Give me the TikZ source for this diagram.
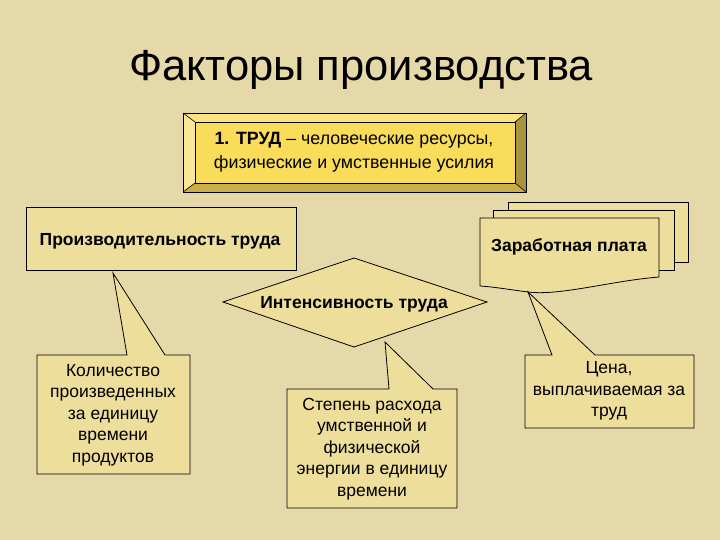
\documentclass[tikz,border=0pt]{standalone}
\usepackage{fontspec}
\setmainfont{Liberation Sans}
\usetikzlibrary{shapes.geometric}
\definecolor{bg}{RGB}{230,217,169}
\definecolor{boxfill}{RGB}{238,222,156}
\definecolor{topfill}{RGB}{248,220,90}
\definecolor{bevlight}{RGB}{251,232,150}
\definecolor{bevtop}{RGB}{250,228,130}
\definecolor{bevbot}{RGB}{200,175,75}
\definecolor{bevright}{RGB}{168,148,64}
\tikzset{
  shapeline/.style={draw=black, line width=0.8pt, fill=boxfill},
  calltext/.style={align=center, font=\fontsize{17.5}{21.5}\selectfont, inner sep=0pt},
  boldlabel/.style={font=\fontsize{17.5}{20}\selectfont\bfseries, inner sep=0pt}
}
\begin{document}
\begin{tikzpicture}[x=1pt,y=-1pt]
\fill[bg] (0,0) rectangle (720,540);
\useasboundingbox (0,0) rectangle (720,540);

% title
\node[inner sep=0pt, font=\fontsize{43.5}{46}\selectfont] (title) at (361,70) {Факторы производства};

% top bevelled box
\coordinate (o1) at (183,113); \coordinate (o2) at (526,113);
\coordinate (o3) at (526,192); \coordinate (o4) at (183,192);
\coordinate (i1) at (195,122); \coordinate (i2) at (515,122);
\coordinate (i3) at (515,183); \coordinate (i4) at (195,183);
\fill[bevtop] (o1) -- (o2) -- (i2) -- (i1) -- cycle;
\fill[bevlight] (o1) -- (i1) -- (i4) -- (o4) -- cycle;
\fill[bevright] (o2) -- (o3) -- (i3) -- (i2) -- cycle;
\fill[bevbot] (o4) -- (i4) -- (i3) -- (o3) -- cycle;
\fill[topfill] (i1) rectangle (i3);
\draw[line width=0.6pt] (o1) -- (i1) (o2) -- (i2) (o3) -- (i3) (o4) -- (i4);
\draw[line width=0.6pt] (i1) rectangle (i3);
\draw[line width=0.9pt] (o1) rectangle (o3);
\node[align=center, inner sep=0pt, font=\fontsize{17.8}{23.5}\selectfont] (trud) at (354,152)
  {\textbf{1. ТРУД} – человеческие ресурсы,\\физические и умственные усилия};

% productivity box
\node[shapeline, minimum width=270pt, minimum height=63pt, inner sep=0pt] (prodbox) at (161,238.5) {};
\node[boldlabel] (prod) at (160,241) {Производительность труда};

% wage: stacked documents
\draw[shapeline] (508,202) rectangle (688,262);
\draw[shapeline] (493,210) rectangle (674,270);
\draw[shapeline] (480,218) -- (659,218) -- (659,277)
   .. controls (610,281) and (560,296) .. (528,292)
   .. controls (505,289) and (495,287) .. (480,286) -- cycle;
\node[boldlabel] (wage) at (569,247) {Заработная плата};

% intensity diamond
\draw[shapeline] (223,302) -- (354,258) -- (487,302) -- (354,347) -- cycle;
\node[boldlabel] (intens) at (354,304) {Интенсивность труда};

% callout 1
\coordinate (t1) at (113,273);
\draw[shapeline] (37,355) -- (127,355) -- (t1) -- (165,355) -- (190,355) -- (190,474) -- (37,474) -- cycle;
\node[calltext] (c1) at (113,415) {Количество\\произведенных\\за единицу\\времени\\продуктов};

% callout 2
\coordinate (t2) at (385,342);
\draw[shapeline] (287,389) -- (389,389) -- (t2) -- (433,389) -- (457,389) -- (457,508) -- (287,508) -- cycle;
\node[calltext] (c2) at (372,449) {Степень расхода\\умственной и\\физической\\энергии в единицу\\времени};

% callout 3
\coordinate (t3) at (528,292);
\draw[shapeline] (525,355) -- (552,355) -- (t3) -- (595,355) -- (694,355) -- (694,428) -- (525,428) -- cycle;
\node[calltext] (c3) at (609,391) {Цена,\\выплачиваемая за\\труд};
\end{tikzpicture}
\end{document}
